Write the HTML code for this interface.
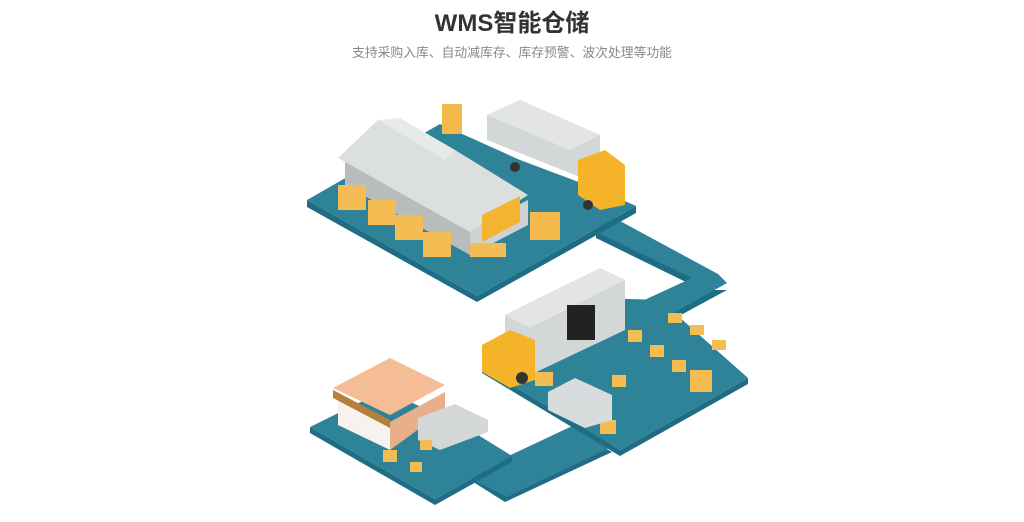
<!DOCTYPE html>
<html><head><meta charset="utf-8"><style>
html,body{margin:0;padding:0;background:#fff;width:1024px;height:522px;overflow:hidden}
.t{position:absolute;left:0;width:1024px;text-align:center;font-family:"Liberation Sans","Noto Sans CJK SC",sans-serif}
</style></head><body>
<div class="t" style="top:3px;font-size:24px;font-weight:bold;color:#333">WMS智能仓储</div>
<div class="t" style="top:42px;font-size:12.8px;color:#888">支持采购入库、自动减库存、库存预警、波次处理等功能</div>
<svg width="1024" height="522" style="position:absolute;left:0;top:0">
<!-- road sides -->
<g fill="#1f6c85">
<polygon points="596,225 715,290 727,290 668,322 640,308 690,284 596,238"/>
<polygon points="580,434 510,472 470,480 505,502 612,452"/>
</g>
<!-- road tops -->
<g fill="#2f8399">
<polygon points="596,208 718,274 727,283 668,316 640,302 692,278 596,232"/>
<polygon points="585,420 500,460 468,468 470,478 507,497 622,442"/>
</g>
<!-- top platform -->
<polygon points="307,207 477,302 636,213 636,206 477,296 307,200" fill="#1f6c85"/>
<polygon points="307,200 440,124 520,160 600,190 636,206 477,296" fill="#2f8399"/>
<!-- middle platform -->
<polygon points="482,373 620,456 748,384 748,378 620,450 482,367" fill="#1f6c85"/>
<polygon points="482,367 600,298 660,300 748,378 620,450" fill="#2f8399"/>
<!-- bottom platform -->
<polygon points="310,433 435,505 512,462 512,456 435,499 310,427" fill="#1f6c85"/>
<polygon points="310,427 385,390 470,430 512,456 435,499" fill="#2f8399"/>
<!-- warehouse -->
<polygon points="345,160 345,185 470,255 470,230" fill="#b9bcbc"/>
<polygon points="470,230 470,255 528,225 528,200" fill="#cfd2d2"/>
<polygon points="338,158 378,120 455,150 528,195 470,232" fill="#dcdfdf"/>
<polygon points="378,120 400,118 455,150 445,160" fill="#e8eaea"/>
<polygon points="482,215 520,196 520,222 482,242" fill="#f2b431"/>
<!-- pallets/boxes -->
<g fill="#f3bd54">
<rect x="338" y="185" width="28" height="25"/><rect x="368" y="200" width="28" height="25"/>
<rect x="395" y="215" width="28" height="25"/><rect x="423" y="232" width="28" height="25"/>
<rect x="470" y="243" width="36" height="14"/>
</g>
<!-- top truck -->
<polygon points="487,115 520,100 600,135 600,185 487,140" fill="#d4d7d7"/>
<polygon points="487,115 520,100 600,135 570,150" fill="#e3e5e5"/>
<polygon points="578,160 605,150 625,165 625,205 600,210 578,195" fill="#f5b32a"/>
<circle cx="515" cy="167" r="5" fill="#333"/><circle cx="588" cy="205" r="5" fill="#333"/>
<rect x="442" y="104" width="20" height="30" fill="#f3b94a"/>
<rect x="530" y="212" width="30" height="28" fill="#f3b94a"/>
<!-- middle truck -->
<polygon points="505,315 600,268 625,280 625,330 530,375 505,362" fill="#d4d7d7"/>
<polygon points="505,315 600,268 625,280 530,328" fill="#e3e5e5"/>
<rect x="567" y="305" width="28" height="35" fill="#222"/>
<polygon points="482,345 510,330 535,340 535,380 510,388 482,372" fill="#f5b32a"/>
<circle cx="522" cy="378" r="6" fill="#333"/>
<!-- shelves / boxes middle -->
<g fill="#f3bd54">
<rect x="628" y="330" width="14" height="12"/><rect x="650" y="345" width="14" height="12"/>
<rect x="672" y="360" width="14" height="12"/><rect x="690" y="370" width="22" height="22"/>
<rect x="668" y="313" width="14" height="10"/><rect x="690" y="325" width="14" height="10"/>
<rect x="712" y="340" width="14" height="10"/><rect x="612" y="375" width="14" height="12"/>
<rect x="600" y="420" width="16" height="14"/><rect x="535" y="372" width="18" height="14"/>
</g>
<polygon points="548,392 575,378 612,395 612,420 585,428 548,410" fill="#d9dcdc"/>
<!-- shop -->
<polygon points="333,388 390,358 445,385 390,415" fill="#f4bd95"/>
<polygon points="338,395 390,422 390,450 338,425" fill="#f7f2ee"/>
<polygon points="390,422 445,392 445,410 390,450" fill="#e8b08a"/>
<polygon points="333,390 390,420 390,428 333,398" fill="#b5803c"/>
<polygon points="418,418 455,404 488,420 488,432 440,450 418,440" fill="#d4d7d7"/>
<g fill="#f3bd54"><rect x="383" y="450" width="14" height="12"/><rect x="410" y="462" width="12" height="10"/><rect x="420" y="440" width="12" height="10"/></g>
</svg>
</body></html>
